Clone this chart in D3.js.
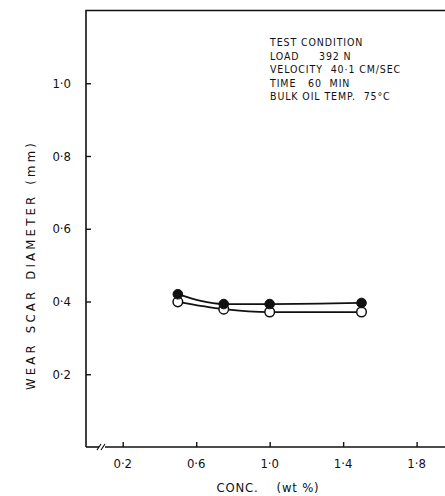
<!DOCTYPE html>
<html><head><meta charset="utf-8">
<script src="https://cdn.jsdelivr.net/npm/d3@7/dist/d3.min.js"></script>
<style>
body{margin:0;background:#fff;}
svg{display:block;}
text{font-family:"DejaVu Sans Condensed","DejaVu Sans",sans-serif;fill:#111;}
</style></head><body>
<div id="chart"></div>
<script>
const concX = [0.5, 0.75, 1.0, 1.5];
const filledSeries = [0.420, 0.393, 0.393, 0.396];
const openSeries = [0.399, 0.379, 0.371, 0.371];
const xTicks = [0.2, 0.6, 1.0, 1.4, 1.8];
const yTicks = [0.2, 0.4, 0.6, 0.8, 1.0];
const xTickLabels = ["0·2", "0·6", "1·0", "1·4", "1·8"];
const yTickLabels = ["0·2", "0·4", "0·6", "0·8", "1·0"];
const conditionLines = ["TEST CONDITION", "LOAD     392 N", "VELOCITY  40·1 CM/SEC", "TIME   60  MIN", "BULK OIL TEMP.  75°C"];

const W = 445, H = 496;
const svg = d3.select("#chart").append("svg").attr("width", W).attr("height", H);
const plotLeft = 86, plotBottom = 447;
const x = d3.scaleLinear().domain([0, 1.96]).range([86, 446]);
const y = d3.scaleLinear().domain([0, 1.2]).range([plotBottom, plotBottom - 1.2 * 363.75]);

// frame: left axis, top line
svg.append("path")
  .attr("d", `M${plotLeft},${plotBottom} L${plotLeft},${y(1.2)} L${W + 2},${y(1.2)}`)
  .attr("fill", "none").attr("stroke", "#111").attr("stroke-width", 1.6);

// bottom axis with break
svg.append("line").attr("x1", plotLeft).attr("x2", 99).attr("y1", plotBottom).attr("y2", plotBottom)
  .attr("stroke", "#111").attr("stroke-width", 1.6);
svg.append("line").attr("x1", 105).attr("x2", W + 2).attr("y1", plotBottom).attr("y2", plotBottom)
  .attr("stroke", "#111").attr("stroke-width", 1.6);
[99, 103].forEach(bx => {
  svg.append("line").attr("x1", bx - 2).attr("y1", plotBottom + 3).attr("x2", bx + 2).attr("y2", plotBottom - 3)
    .attr("stroke", "#111").attr("stroke-width", 1.2);
});

// y ticks (inward)
const yAxis = d3.axisRight(y).tickValues(yTicks).tickSize(5).tickFormat("");
const yg = svg.append("g").attr("transform", `translate(${plotLeft},0)`).call(yAxis);
yg.select(".domain").remove();
yg.selectAll("line").attr("stroke", "#111").attr("stroke-width", 1.4);
yTicks.forEach((v, i) => {
  svg.append("text").attr("x", 71).attr("y", y(v)).attr("dy", "0.35em")
    .attr("text-anchor", "end").attr("font-size", 13).text(yTickLabels[i]);
});

// x ticks (inward)
const xAxis = d3.axisTop(x).tickValues(xTicks).tickSize(5).tickFormat("");
const xg = svg.append("g").attr("transform", `translate(0,${plotBottom})`).call(xAxis);
xg.select(".domain").remove();
xg.selectAll("line").attr("stroke", "#111").attr("stroke-width", 1.4);
xTicks.forEach((v, i) => {
  svg.append("text").attr("x", x(v)).attr("y", 468)
    .attr("text-anchor", "middle").attr("font-size", 13).text(xTickLabels[i]);
});

// axis titles
svg.append("text").attr("transform", `translate(35,265) rotate(-90)`)
  .attr("text-anchor", "middle").attr("font-size", 13).attr("letter-spacing", "3.2px")
  .attr("word-spacing", "2px")
  .text("WEAR SCAR DIAMETER (mm)");
svg.append("text").attr("x", 268).attr("y", 492).attr("text-anchor", "middle")
  .attr("font-size", 13).attr("letter-spacing", "0.8px").style("white-space", "pre")
  .text("CONC.    (wt %)");

// conditions text
conditionLines.forEach((t, i) => {
  svg.append("text").attr("x", 270).attr("y", 46 + i * 13.5)
    .attr("font-size", 10.5).attr("letter-spacing", "0.9px").style("white-space", "pre").text(t);
});

// lines
const line = d3.line().x(d => x(d[0])).y(d => y(d[1])).curve(d3.curveMonotoneX);
const filledPts = concX.map((c, i) => [c, filledSeries[i]]);
const openPts = concX.map((c, i) => [c, openSeries[i]]);
[filledPts, openPts].forEach(pts => {
  svg.append("path").attr("d", line(pts)).attr("fill", "none")
    .attr("stroke", "#111").attr("stroke-width", 1.8);
});

// markers
svg.selectAll(".open").data(openPts).enter().append("circle")
  .attr("cx", d => x(d[0])).attr("cy", d => y(d[1])).attr("r", 4.8)
  .attr("fill", "#fff").attr("stroke", "#111").attr("stroke-width", 1.5);
svg.selectAll(".filled").data(filledPts).enter().append("circle")
  .attr("cx", d => x(d[0])).attr("cy", d => y(d[1])).attr("r", 4.8)
  .attr("fill", "#111").attr("stroke", "#111").attr("stroke-width", 1);
</script></body></html>
